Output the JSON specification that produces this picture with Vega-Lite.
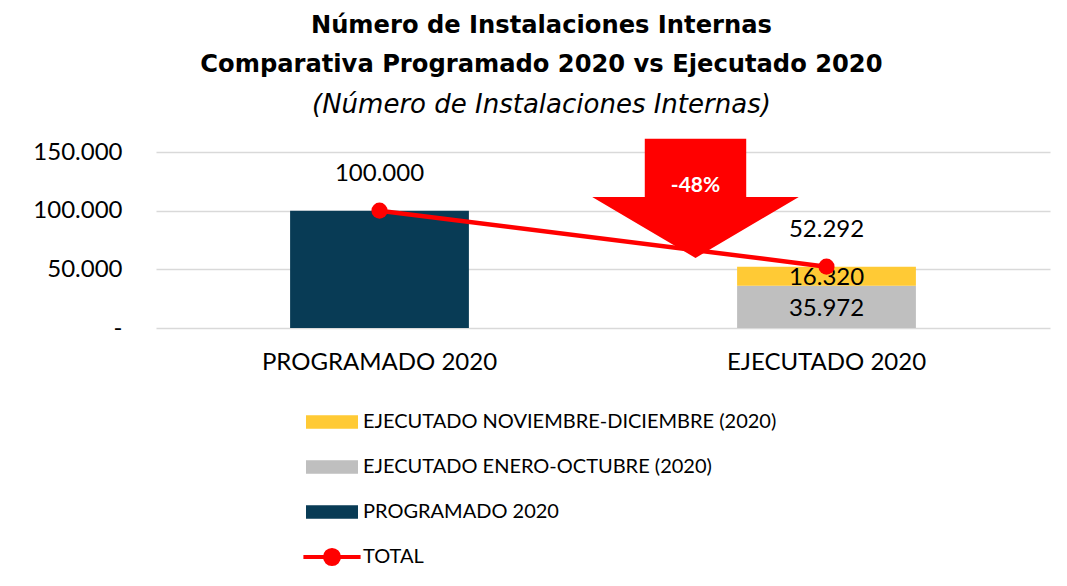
{
  "$schema": "https://vega.github.io/schema/vega-lite/v6.json",
  "width": 894,
  "height": 176,
  "autosize": {"type": "none"},
  "padding": {"left": 156, "top": 152, "right": 17, "bottom": 258},
  "background": "white",
  "title": {
    "text": ["Número de Instalaciones Internas", "Comparativa Programado 2020 vs Ejecutado 2020"],
    "subtitle": "(Número de Instalaciones Internas)",
    "anchor": "middle",
    "frame": "bounds",
    "font": "DejaVu Sans",
    "fontSize": 24.2,
    "fontWeight": "bold",
    "color": "#000000",
    "lineHeight": 39,
    "subtitleFont": "DejaVu Sans",
    "subtitleFontSize": 26,
    "subtitleFontStyle": "italic",
    "subtitleFontWeight": "normal",
    "subtitleColor": "#000000",
    "subtitlePadding": 15,
    "subtitleLineHeight": 28,
    "offset": 21
  },
  "config": {
    "view": {"stroke": null},
    "locale": {"number": {"decimal": ",", "thousands": ".", "grouping": [3], "currency": ["", " €"]}}
  },
  "datasets": {
    "barras": [
      {"categoria": "PROGRAMADO 2020", "serie": "PROGRAMADO 2020", "valor": 100000},
      {"categoria": "EJECUTADO 2020", "serie": "EJECUTADO ENERO-OCTUBRE (2020)", "valor": 35972},
      {"categoria": "EJECUTADO 2020", "serie": "EJECUTADO NOVIEMBRE-DICIEMBRE (2020)", "valor": 16320}
    ],
    "total": [
      {"categoria": "PROGRAMADO 2020", "serie": "TOTAL", "valor": 100000},
      {"categoria": "EJECUTADO 2020", "serie": "TOTAL", "valor": 52292}
    ],
    "variacion": [
      {"categoria": "EJECUTADO 2020", "texto": "-48%"}
    ]
  },
  "layer": [
    {
      "data": {"name": "barras"},
      "mark": {"type": "bar"},
      "encoding": {
        "x": {
          "field": "categoria", "type": "nominal",
          "sort": ["PROGRAMADO 2020", "EJECUTADO 2020"],
          "scale": {"paddingInner": 0.6, "paddingOuter": 0.3},
          "axis": {"title": null, "labelFont": "Lato", "labelFontSize": 24, "labelColor": "#000000", "labelAngle": 0, "labelLimit": 500, "domain": false, "ticks": false, "labelPadding": 22}
        },
        "y": {
          "field": "valor", "type": "quantitative", "stack": "zero",
          "scale": {"domain": [0, 150000], "nice": false},
          "axis": {
            "title": null, "values": [0, 50000, 100000, 150000], "format": ",.0f",
            "labelExpr": "datum.value === 0 ? '-' : datum.label",
            "grid": true, "gridColor": "#D9D9D9", "gridWidth": 1.5, "domain": false, "ticks": false,
            "labelPadding": 34, "labelFont": "Lato", "labelFontSize": 24, "labelColor": "#000000",
            "encode": {"labels": {"update": {"dx": {"signal": "datum.value === 0 ? -12 : 0"}}}}
          }
        },
        "color": {
          "field": "serie", "type": "nominal",
          "scale": {
            "domain": ["EJECUTADO NOVIEMBRE-DICIEMBRE (2020)", "EJECUTADO ENERO-OCTUBRE (2020)", "PROGRAMADO 2020", "TOTAL"],
            "range": ["#FFCA35", "#BFBFBF", "#083B55", "#FF0000"]
          },
          "legend": {
            "orient": "none", "legendX": 148, "legendY": 242, "direction": "vertical",
            "title": null, "labelFont": "Lato", "labelFontSize": 20, "labelColor": "#000000", "labelLimit": 700,
            "symbolSize": 2704, "rowPadding": 4, "padding": 0, "labelOffset": 3,
            "encode": {
              "symbols": {
                "update": {
                  "shape": {"signal": "datum.value === 'TOTAL' ? 'M-1.1,0L1.1,0M0.27,0A0.27,0.27 0 1,1 -0.27,0A0.27,0.27 0 1,1 0.27,0Z' : 'M-0.923,-0.187L0.923,-0.187L0.923,0.187L-0.923,0.187Z'"},
                  "fill": {"signal": "scale('color', datum.value)"},
                  "stroke": {"signal": "scale('color', datum.value)"},
                  "strokeWidth": {"value": 4},
                  "opacity": {"value": 1},
                  "fillOpacity": {"value": 1}
                }
              }
            }
          }
        },
        "order": {"field": "serie", "type": "ordinal"}
      }
    },
    {
      "data": {"name": "barras"},
      "transform": [{"filter": "datum.categoria === 'EJECUTADO 2020'"}],
      "mark": {"type": "text", "font": "Lato", "fontSize": 24, "color": "#000000", "baseline": "middle", "dy": 2},
      "encoding": {
        "x": {"field": "categoria", "type": "nominal", "sort": ["PROGRAMADO 2020", "EJECUTADO 2020"]},
        "y": {"field": "valor", "type": "quantitative", "stack": "zero", "bandPosition": 0.5},
        "detail": {"field": "serie"},
        "order": {"field": "serie", "type": "ordinal"},
        "text": {"field": "valor", "type": "quantitative", "format": ",.0f"}
      }
    },
    {
      "data": {"name": "variacion"},
      "mark": {
        "type": "point",
        "shape": "M-0.491,-0.577L0.491,-0.577L0.491,-0.013L1,-0.013L0,0.577L-1,-0.013L-0.491,-0.013Z",
        "filled": true, "size": 42684, "color": "#FF0000", "opacity": 1, "xOffset": -131, "clip": false
      },
      "encoding": {
        "x": {"field": "categoria", "type": "nominal", "sort": ["PROGRAMADO 2020", "EJECUTADO 2020"]},
        "y": {"datum": 110500, "type": "quantitative"}
      }
    },
    {
      "data": {"name": "total"},
      "mark": {"type": "line", "strokeWidth": 4.5, "point": {"filled": true, "size": 260, "opacity": 1}},
      "encoding": {
        "x": {"field": "categoria", "type": "nominal", "sort": ["PROGRAMADO 2020", "EJECUTADO 2020"]},
        "y": {"field": "valor", "type": "quantitative"},
        "color": {"field": "serie", "type": "nominal"}
      }
    },
    {
      "data": {"name": "variacion"},
      "mark": {"type": "text", "font": "Lato", "fontSize": 21, "fontWeight": "bold", "color": "#FFFFFF", "baseline": "middle", "xOffset": -131, "dy": -12},
      "encoding": {
        "x": {"field": "categoria", "type": "nominal", "sort": ["PROGRAMADO 2020", "EJECUTADO 2020"]},
        "y": {"datum": 110500, "type": "quantitative"},
        "text": {"field": "texto"}
      }
    },
    {
      "data": {"name": "total"},
      "mark": {"type": "text", "font": "Lato", "fontSize": 24, "color": "#000000", "baseline": "middle", "dy": -37},
      "encoding": {
        "x": {"field": "categoria", "type": "nominal", "sort": ["PROGRAMADO 2020", "EJECUTADO 2020"]},
        "y": {"field": "valor", "type": "quantitative"},
        "text": {"field": "valor", "type": "quantitative", "format": ",.0f"}
      }
    }
  ]
}
